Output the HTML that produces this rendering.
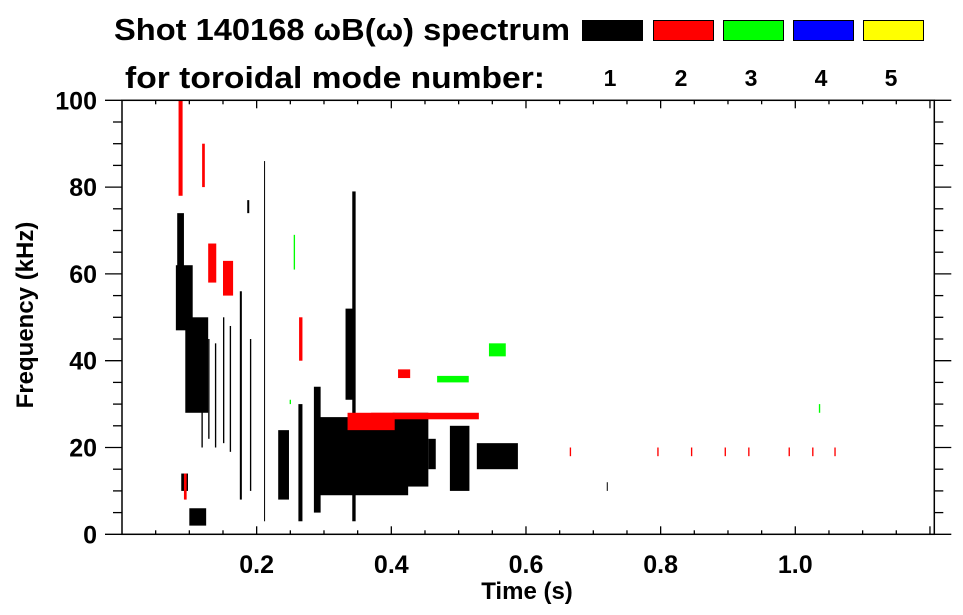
<!DOCTYPE html>
<html><head><meta charset="utf-8"><style>
html,body{margin:0;padding:0;background:#fff;}
svg{display:block;font-family:"Liberation Sans",sans-serif;font-weight:bold;}
</style></head><body>
<svg id="chart" width="963" height="615" viewBox="0 0 963 615" xmlns="http://www.w3.org/2000/svg">
<text x="114" y="40" font-size="31" textLength="456" lengthAdjust="spacingAndGlyphs">Shot 140168 ωB(ω) spectrum</text>
<text x="125" y="88" font-size="31" textLength="420" lengthAdjust="spacingAndGlyphs">for toroidal mode number:</text>
<g id="legend"></g>
<g id="marks"></g>
<g id="axes"></g>
<text x="527" y="599" font-size="24" text-anchor="middle">Time (s)</text>
<text transform="translate(33,315) rotate(-90)" font-size="24" text-anchor="middle">Frequency (kHz)</text>
</svg>
<script>
// mode numbers and colors
const modeLabels = ["1","2","3","4","5"];
const modeColors = ["#000000","#ff0000","#00ff00","#0000ff","#ffff00"];
const xTicks = [0.2,0.4,0.6,0.8,1.0];
const xTickLabels = ["0.2","0.4","0.6","0.8","1.0"];
const yTicks = [0,20,40,60,80,100];
const yTickLabels = ["0","20","40","60","80","100"];
// spectrogram patches: start time, end time, low freq, high freq, mode index
const segT0 = [0.082,0.080,0.094,0.118,0.128,0.138,0.150,0.160,0.175,0.186,0.190,0.211,0.232,0.262,0.285,0.288,0.332,0.342,0.360,0.402,0.455,0.487,0.527,0.088,0.084,0.119,0.128,0.150,0.092,0.263,0.335,0.370,0.410,0.665,0.795,0.845,0.895,0.930,0.990,1.025,1.058,0.545,0.468,0.255,0.249,1.035,0.100,0.720];
const segT1 = [0.092,0.105,0.128,0.120,0.130,0.140,0.152,0.162,0.178,0.189,0.192,0.212,0.248,0.268,0.295,0.425,0.344,0.347,0.372,0.455,0.466,0.516,0.588,0.098,0.090,0.123,0.140,0.165,0.096,0.268,0.405,0.530,0.428,0.667,0.797,0.847,0.897,0.932,0.992,1.027,1.060,0.570,0.515,0.257,0.251,1.037,0.125,0.721];
const segF0 = [48,47,28,20,22,20,21,19,8,74,10,3,8,3,5,9,31,3,10,11,15,10,15,10,78,80,58,55,8,40,24,26.5,36,18,18,18,18,18,18,18,18,41,35,61,30,28,2,10];
const segF1 = [74,62,50,48,45,44,50,48,56,77,45,86,24,30,34,27,52,79,27,28,22,25,21,14,100,90,67,63,14,50,28,28,38,20,20,20,20,20,20,20,20,44,36.5,69,31,30,6,12];
const segMode = [0,0,0,0,0,0,0,0,0,0,0,0,0,0,0,0,0,0,0,0,0,0,0,0,1,1,1,1,1,1,1,1,1,1,1,1,1,1,1,1,1,2,2,2,2,2,0,0];
</script>
<script>
const NS="http://www.w3.org/2000/svg";
const L=122,R=934.3,T=100.3,B=534.3;
function xs(t){return L+t*673.3;}
function ys(f){return B-(f/100)*(B-T);}
function mk(tag,attrs,parent){const e=document.createElementNS(NS,tag);for(const k in attrs)e.setAttribute(k,attrs[k]);parent.appendChild(e);return e;}
const marks=document.getElementById('marks');
for(let i=0;i<segT0.length;i++){
  const x0=xs(segT0[i]),x1=xs(segT1[i]),y0=ys(segF1[i]),y1=ys(segF0[i]);
  const r=mk('rect',{x:x0,y:y0,width:Math.max(1,x1-x0),height:Math.max(1,y1-y0),fill:modeColors[segMode[i]]},marks);
  
  
}
const leg=document.getElementById('legend');
const lx=[582,653,723,793,863];
for(let i=0;i<modeLabels.length;i++){
  const b=mk('rect',{x:lx[i]+0.5,y:20.5,width:60,height:20,fill:modeColors[i],stroke:'#000','stroke-width':1},leg);
  
  
  const t=mk('text',{x:lx[i]+28,y:86,'font-size':23,'text-anchor':'middle'},leg);
  t.textContent=modeLabels[i];
  
  
}
const ax=document.getElementById('axes');
mk('rect',{x:L,y:T,width:R-L,height:B-T,fill:'none',stroke:'#000','stroke-width':1.5},ax);
for(let f=0;f<=100;f+=5){
  const y=ys(f),maj=f%20===0,len=maj?17:9;
  mk('line',{x1:L-len,y1:y,x2:L,y2:y,stroke:'#000','stroke-width':1.3},ax);
  mk('line',{x1:R,y1:y,x2:R+len,y2:y,stroke:'#000','stroke-width':1.3},ax);
}
for(let k=1;k<=24;k++){
  const t=k*0.05,x=xs(t);if(x>R-1)break;const maj=k%4===0,len=maj?8:4;
  mk('line',{x1:x,y1:B,x2:x,y2:B-len,stroke:'#000','stroke-width':1.3},ax);
  mk('line',{x1:x,y1:T,x2:x,y2:T+len,stroke:'#000','stroke-width':1.3},ax);
}
for(let i=0;i<xTicks.length;i++){
  const t=mk('text',{x:xs(xTicks[i]),y:573,'font-size':25,'text-anchor':'middle'},ax);
  t.textContent=xTickLabels[i];
  
  
}
for(let i=0;i<yTicks.length;i++){
  const t=mk('text',{x:97,y:ys(yTicks[i])+9,'font-size':25,'text-anchor':'end'},ax);
  t.textContent=yTickLabels[i];
  
  
}
</script>
</body></html>
